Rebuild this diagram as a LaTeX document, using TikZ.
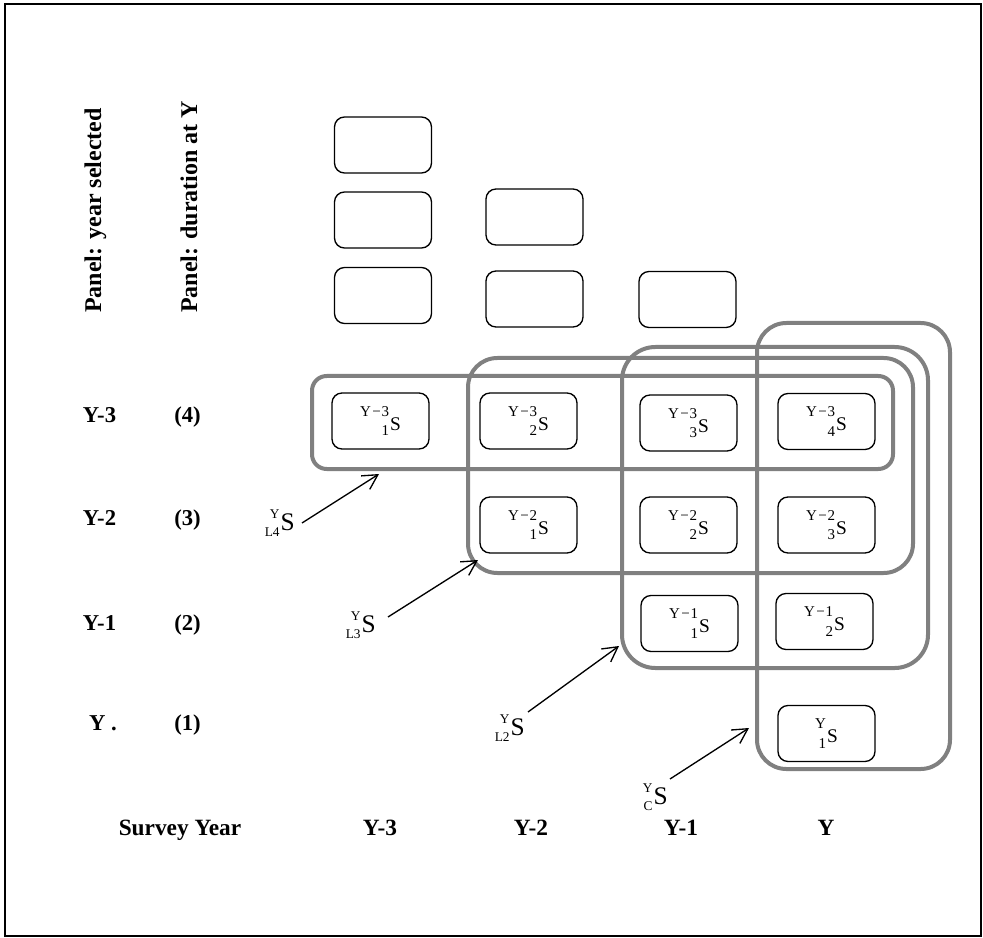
\documentclass[tikz,border=0pt]{standalone}
\usepackage{fontspec}
\setmainfont{Liberation Serif}
\usetikzlibrary{arrows.meta}
\definecolor{framegray}{RGB}{128,128,128}
\newcommand\mypres[6]{%
  \begingroup
  \fontsize{#5}{#5}\selectfont
  \setbox0\hbox{#1}\setbox2\hbox{#2}%
  \ifdim\wd0>\wd2 \dimen0=\wd0 \else \dimen0=\wd2 \fi
  \hbox to\dimen0{\hfil\raise#3\box0\llap{\lower#4\box2}}%
  \kern0.8pt\fontsize{#6}{#6}\selectfont S%
  \endgroup}
\newcommand\boxS[2]{\mypres{#1}{#2}{10.5pt}{4pt}{11.25pt}{14.5pt}}
\newcommand\freeS[2]{\mypres{#1}{#2}{9pt}{4.5pt}{10pt}{19pt}}
\newcommand\ym[1]{Y\kern0.1em−\kern0.05em#1}
\tikzset{
  cell/.style={draw=black,line width=1pt,rounded corners=7.5pt,
    minimum width=72.75pt,minimum height=42pt,inner sep=0pt},
  frame/.style={draw=framegray,line width=3pt},
  lab/.style={font=\bfseries\fontsize{17pt}{19pt}\selectfont,inner sep=0pt,anchor=base},
  blab/.style={font=\bfseries\fontsize{17.5pt}{19pt}\selectfont,inner sep=0pt,anchor=base},
  vlab/.style={font=\bfseries\fontsize{18pt}{20pt}\selectfont,inner sep=0pt,rotate=90,anchor=base west},
  free/.style={inner sep=0pt,anchor=base east},
  arr/.style={line width=1pt,-{Straight Barb[length=11pt,width=12pt]}}
}
\begin{document}
\begin{tikzpicture}[x=0.75pt,y=-0.75pt]
\useasboundingbox (0,0) rectangle (983,938);
\draw[line width=1.5pt] (5,4) rectangle (981,936);

% grey grouping frames
\draw[frame,rounded corners=11pt] (312,376) rectangle (893,469);
\draw[frame,rounded corners=22pt] (468,358) rectangle (913,573);
\draw[frame,rounded corners=25pt] (622,347) rectangle (928,668);
\draw[frame,rounded corners=22pt] (757,323) rectangle (950,769);

% empty boxes
\node[cell] (e11) at (383,145) {};
\node[cell] (e12) at (383,220) {};
\node[cell] (e13) at (383,295.5) {};
\node[cell] (e21) at (534.5,217) {};
\node[cell] (e22) at (534.5,299) {};
\node[cell] (e31) at (687.5,299.5) {};

% S boxes
\node[cell] (a1) at (380.5,421) {\boxS{\ym{3}}{1}};
\node[cell] (a2) at (528.5,421) {\boxS{\ym{3}}{2}};
\node[cell] (a3) at (688.5,423) {\boxS{\ym{3}}{3}};
\node[cell] (a4) at (826.5,421.5) {\boxS{\ym{3}}{4}};
\node[cell] (b1) at (528.5,525) {\boxS{\ym{2}}{1}};
\node[cell] (b2) at (688.5,525) {\boxS{\ym{2}}{2}};
\node[cell] (b3) at (826.5,525) {\boxS{\ym{2}}{3}};
\node[cell] (c1) at (689.5,623.5) {\boxS{\ym{1}}{1}};
\node[cell] (c2) at (824.5,621.5) {\boxS{\ym{1}}{2}};
\node[cell] (d1) at (826.5,733.5) {\boxS{Y}{1}};

% left headers
\node[vlab] (h1) at (101,313) {Panel: year selected};
\node[vlab] (h2) at (197,313) {Panel: duration at Y};

% row labels
\node[lab] (r1) at (99.5,422) {Y-3};
\node[lab] (p1) at (187.5,422) {(4)};
\node[lab] (r2) at (99.5,525) {Y-2};
\node[lab] (p2) at (187.5,525) {(3)};
\node[lab] (r3) at (99.5,630) {Y-1};
\node[lab] (p3) at (187.5,630) {(2)};
\node[lab] (r4) at (103,730) {Y .};
\node[lab] (p4) at (187.5,730) {(1)};

% bottom labels
\node[blab] (sy) at (180,835) {Survey Year};
\node[blab] (y3) at (380,835) {Y-3};
\node[blab] (y2) at (531,835) {Y-2};
\node[blab] (y1) at (681,835) {Y-1};
\node[blab] (y0) at (826,835) {Y};

% free labels
\node[free] (L4) at (295,530) {\freeS{Y}{L4}};
\node[free] (L3) at (376,632) {\freeS{Y}{L3}};
\node[free] (L2) at (525,735) {\freeS{Y}{L2}};
\node[free] (LC) at (668,804) {\freeS{Y}{C}};

\coordinate (t4) at (379,474);
\coordinate (t3) at (478,560);
\coordinate (t2) at (619,646);
\coordinate (tc) at (749,728);

\draw[arr] ([shift={(7,-7)}]L4.base east) -- (t4);
\draw[arr] ([shift={(12,-15)}]L3.base east) -- (t3);
\draw[arr] ([shift={(3,-23)}]L2.base east) -- (t2);
\draw[arr] ([shift={(2,-25)}]LC.base east) -- (tc);
\end{tikzpicture}
\end{document}
